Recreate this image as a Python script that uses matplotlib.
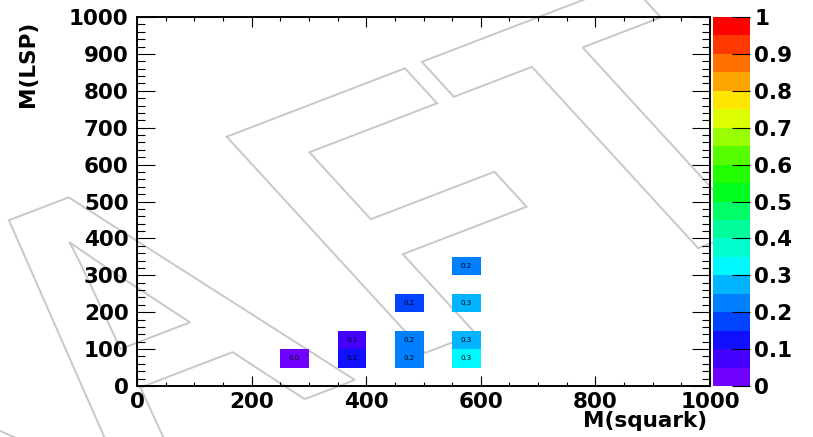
import numpy as np
import matplotlib
matplotlib.use("Agg")
import matplotlib.pyplot as plt
from matplotlib.colors import ListedColormap, BoundaryNorm
from matplotlib.ticker import MultipleLocator, FixedLocator
from matplotlib.textpath import TextPath
from matplotlib.font_manager import FontProperties
from matplotlib.patches import PathPatch
from matplotlib.path import Path
from matplotlib.transforms import Affine2D

# ---------------- data (bin centres and efficiency values) ----------------
m_squark = [275, 375, 375, 475, 475, 475, 575, 575, 575, 575]
m_lsp = [75, 75, 125, 75, 125, 225, 75, 125, 225, 325]
values = [0.04, 0.12, 0.08, 0.22, 0.22, 0.18, 0.32, 0.28, 0.28, 0.22]

bin_edges = np.arange(0, 1001, 50)
cbar_ticks = [0, 0.1, 0.2, 0.3, 0.4, 0.5, 0.6, 0.7, 0.8, 0.9, 1]

# ROOT-like rainbow palette, 20 contour levels
palette = ["#7000ff", "#4400ff", "#1010ff", "#0044ff", "#0080ff",
           "#00b4ff", "#00f8ff", "#00ffd0", "#00ff9a", "#00ff66",
           "#00ff1e", "#22ff00", "#55ff00", "#99ff00", "#ddff00",
           "#ffe600", "#ffa500", "#ff7000", "#ff3800", "#ff0000"]
cmap = ListedColormap(palette)
norm = BoundaryNorm(np.linspace(0, 1, 21), cmap.N)

plt.rcParams["font.family"] = ["DejaVu Sans"]
plt.rcParams["font.weight"] = "bold"
plt.rcParams["axes.labelweight"] = "bold"
FS = 15.5

W, H = 813, 437
fig = plt.figure(figsize=(W / 100, H / 100), dpi=100)
fig.patch.set_facecolor("white")

# ---------------- "DRAFT" outline watermark ----------------
fp = FontProperties(family="Liberation Sans")
ext_draf = TextPath((0, 0), "DRAF", size=100, prop=fp).get_extents()
ext_f = TextPath((0, 0), "F", size=100, prop=fp).get_extents()
f_width = ext_f.x1 - ext_f.x0
f_right = ext_draf.x1
f_left = f_right - f_width
cap = ext_f.y1
part1 = TextPath((-0.21 * f_width, 0), "DRA", size=100, prop=fp)
part2 = TextPath((f_left - ext_f.x0, 0), "FT", size=100, prop=fp)
wm = Path.make_compound_path(part1, part2)

src = np.array([[f_left, cap, 1], [f_right, cap, 1], [f_left, 0, 1]])
dst = np.array([[226.7, H - 136.7], [405.0, H - 68.3], [425.0, H - 353.0]])
M = np.linalg.solve(src, dst)
mat = np.array([[M[0, 0], M[1, 0], M[2, 0]],
                [M[0, 1], M[1, 1], M[2, 1]],
                [0, 0, 1]])
wm_patch = PathPatch(wm, facecolor="none", edgecolor="#c8c8c8", lw=1.4,
                     transform=Affine2D(mat), zorder=-5)
fig.add_artist(wm_patch)

# ---------------- main 2D histogram ----------------
ax = fig.add_axes([137 / W, 1 - 386 / H, 573 / W, 369 / H])
ax.set_facecolor("none")

hist, _, _ = np.histogram2d(m_squark, m_lsp, bins=[bin_edges, bin_edges], weights=values)
counts, _, _ = np.histogram2d(m_squark, m_lsp, bins=[bin_edges, bin_edges])
grid = np.ma.masked_where(counts.T == 0, hist.T)
mesh = ax.pcolormesh(bin_edges, bin_edges, grid, cmap=cmap, norm=norm)

for x, y, v in zip(m_squark, m_lsp, values):
    ax.text(x, y, f"{v:.1f}", ha="center", va="center", fontsize=5,
            fontweight="normal", color="black")

ax.set_xlim(0, 1000)
ax.set_ylim(0, 1000)
ax.xaxis.set_major_locator(MultipleLocator(200))
ax.xaxis.set_minor_locator(MultipleLocator(50))
ax.yaxis.set_major_locator(MultipleLocator(100))
ax.yaxis.set_minor_locator(MultipleLocator(20))
ax.tick_params(which="both", direction="in", top=True, right=True, width=0.8, labelsize=FS)
ax.xaxis.set_tick_params(which="major", length=7, pad=4)
ax.xaxis.set_tick_params(which="minor", length=3)
ax.yaxis.set_tick_params(which="major", length=13, pad=6)
ax.yaxis.set_tick_params(which="minor", length=6)
for sp in ax.spines.values():
    sp.set_linewidth(1.4)

ax.set_xlabel("M(squark)", loc="right", fontsize=FS)
ax.xaxis.set_label_coords(0.995, -0.068)
ax.set_ylabel("M(LSP)", loc="top", fontsize=FS)
ax.yaxis.set_label_coords(-0.172, 0.99)

# ---------------- palette axis ----------------
cax = fig.add_axes([713 / W, 1 - 386 / H, 37 / W, 369 / H])
cax.set_facecolor("none")
cb = fig.colorbar(mesh, cax=cax, ticks=cbar_ticks)
cb.outline.set_visible(False)
cb.ax.set_yticklabels([f"{t:g}" for t in cbar_ticks])
cb.ax.yaxis.set_minor_locator(FixedLocator([]))
cb.ax.tick_params(direction="in", length=13, width=0.8, pad=3, labelsize=FS, colors="black")

fig.savefig("out.png", dpi=100)
